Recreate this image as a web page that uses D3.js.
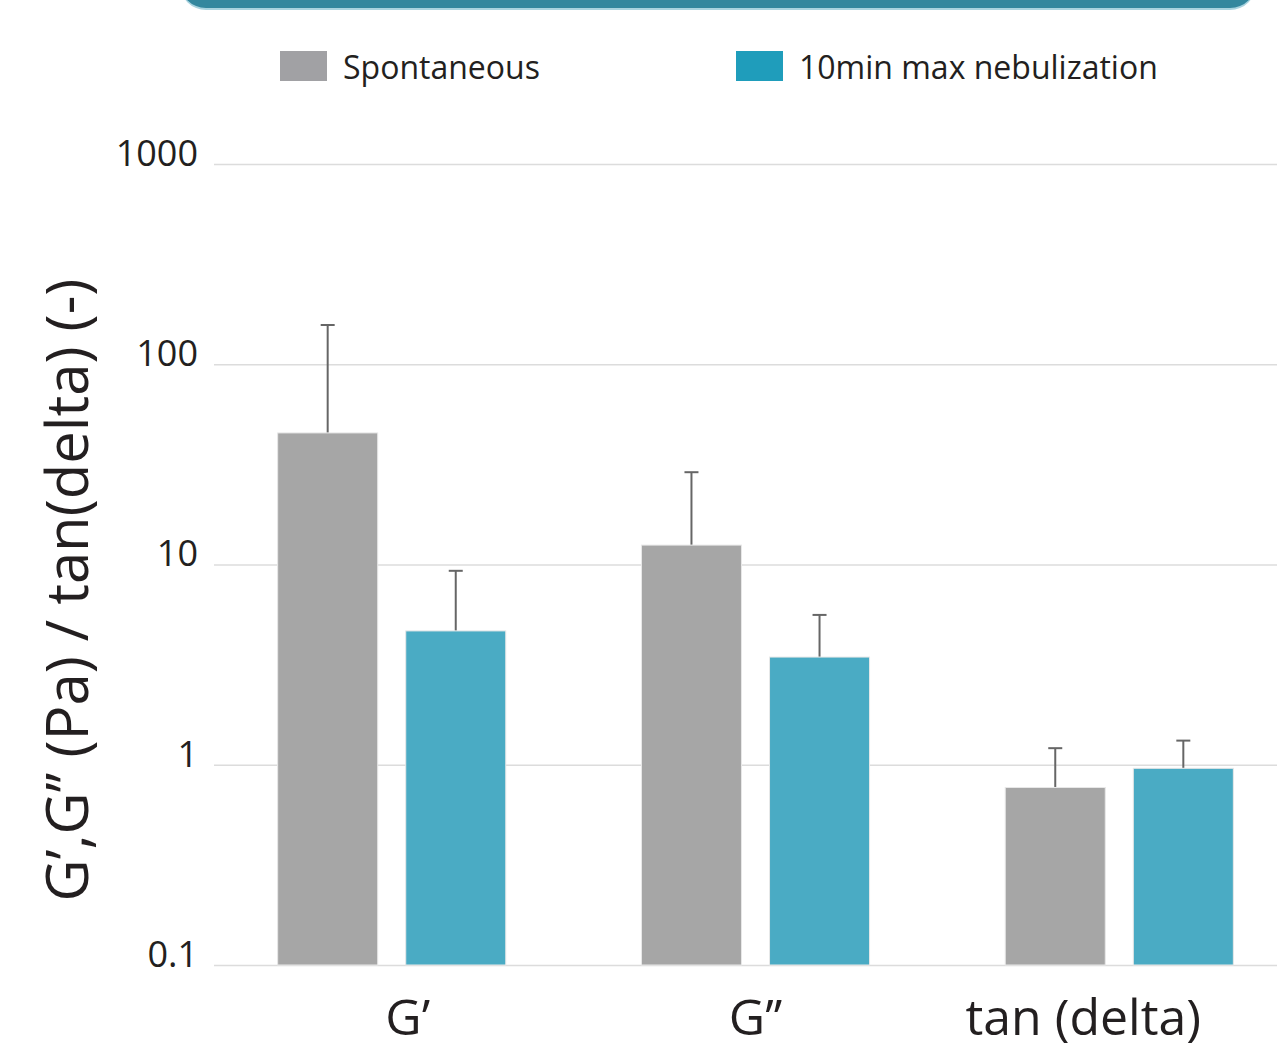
<!DOCTYPE html>
<html>
<head>
<meta charset="utf-8">
<script src="https://cdn.jsdelivr.net/npm/d3@7"></script>
<style>
  html, body { margin: 0; padding: 0; background: #fff; }
  svg { display: block; font-family: "Open Sans", Lato, sans-serif; }
</style>
</head>
<body>
<svg id="chart"></svg>
<script>
// ----- Data -----
const categories = ["G\u2019", "G\u2019\u2019", "tan (delta)"];
const seriesNames = ["Spontaneous", "10min max nebulization"];
const spontaneous = [45.4, 12.5, 0.77];
const spontaneousErr = [157, 28.9, 1.21];
const nebulization = [4.66, 3.45, 0.96];
const nebulizationErr = [9.3, 5.6, 1.32];
const yTicks = [0.1, 1, 10, 100, 1000];
const yTickLabels = ["0.1", "1", "10", "100", "1000"];

// ----- Constants -----
const width = 1277, height = 1053;
const barColors = ["#a6a6a6", "#4aabc4"];
const swatchColors = ["#a1a1a4", "#1f9dbb"];
const labelDx = [16, 0, -36]; // category labels are not quite centred in the original

const svg = d3.select("#chart")
    .attr("width", width)
    .attr("height", height);

// ----- Banner (cut off at top) -----
svg.append("rect")
    .attr("x", 180).attr("y", -60)
    .attr("width", 1076).attr("height", 70)
    .attr("rx", 26)
    .attr("fill", "#a9d3df");
svg.append("rect")
    .attr("x", 180).attr("y", -60)
    .attr("width", 1076).attr("height", 68)
    .attr("rx", 26)
    .attr("fill", "#33879e");

// ----- Scales -----
const x0 = d3.scaleBand().domain(categories).range([210, 1301])
    .paddingInner(0.373).paddingOuter(0.186);
const x1 = d3.scaleBand().domain(seriesNames).range([0, x0.bandwidth()])
    .paddingInner(0.219);
const y = d3.scaleLog().domain([0.1, 1000]).range([965, 164]);

// ----- Grid + y labels -----
const yAxis = svg.append("g")
    .attr("transform", "translate(214,0)")
    .call(d3.axisLeft(y).tickValues(yTicks)
        .tickSize(-(width - 214))
        .tickFormat((d, i) => yTickLabels[i]));
yAxis.select(".domain").remove();
yAxis.selectAll(".tick line").attr("stroke", "#dcdcdc").attr("stroke-width", 1.5);
yAxis.selectAll(".tick text")
    .attr("x", -16)
    .attr("dy", "0.04em")
    .attr("fill", "#231f20")
    .style("font-size", "36px")
    .style("font-family", "'Open Sans', sans-serif");

// ----- Bars -----
const rows = categories.map((c, i) => ({
    cat: c,
    vals: [
        { s: seriesNames[0], v: spontaneous[i], e: spontaneousErr[i], k: 0 },
        { s: seriesNames[1], v: nebulization[i], e: nebulizationErr[i], k: 1 }
    ]
}));

const groups = svg.append("g").selectAll("g")
    .data(rows)
    .join("g")
    .attr("transform", d => `translate(${x0(d.cat)},0)`);

groups.selectAll("line.err")
    .data(d => d.vals)
    .join("line")
    .attr("class", "err")
    .attr("x1", d => x1(d.s) + x1.bandwidth() / 2)
    .attr("x2", d => x1(d.s) + x1.bandwidth() / 2)
    .attr("y1", d => y(d.v))
    .attr("y2", d => y(d.e))
    .attr("stroke", "#666")
    .attr("stroke-width", 2);

groups.selectAll("line.cap")
    .data(d => d.vals)
    .join("line")
    .attr("class", "cap")
    .attr("x1", d => x1(d.s) + x1.bandwidth() / 2 - 7)
    .attr("x2", d => x1(d.s) + x1.bandwidth() / 2 + 7)
    .attr("y1", d => y(d.e))
    .attr("y2", d => y(d.e))
    .attr("stroke", "#666")
    .attr("stroke-width", 2);

groups.selectAll("rect")
    .data(d => d.vals)
    .join("rect")
    .attr("x", d => x1(d.s))
    .attr("width", x1.bandwidth())
    .attr("y", d => y(d.v))
    .attr("height", d => y(0.1) - y(d.v))
    .attr("fill", d => barColors[d.k])
    .attr("stroke", "#e8e8e8")
    .attr("stroke-width", 1);

// ----- Category labels -----
svg.append("g").selectAll("text")
    .data(categories)
    .join("text")
    .attr("x", (d, i) => x0(d) + x0.bandwidth() / 2 + labelDx[i])
    .attr("y", 1035)
    .attr("text-anchor", "middle")
    .attr("fill", "#231f20")
    .style("font-size", "50px")
    .text(d => d);

// ----- Y title -----
svg.append("text")
    .attr("transform", "translate(88,590) rotate(-90)")
    .attr("text-anchor", "middle")
    .attr("fill", "#231f20")
    .style("font-size", "58px")
    .text("G\u2019,G\u2019\u2019 (Pa) / tan(delta) (-)");

// ----- Legend -----
const legendX = [280, 736];
const legend = svg.append("g").selectAll("g")
    .data(seriesNames)
    .join("g")
    .attr("transform", (d, i) => `translate(${legendX[i]},51)`);
legend.append("rect")
    .attr("width", 47).attr("height", 30)
    .attr("fill", (d, i) => swatchColors[i]);
legend.append("text")
    .attr("x", 63).attr("y", 28)
    .attr("fill", "#231f20")
    .style("font-size", "32px")
    .text(d => d);
</script>
</body>
</html>
